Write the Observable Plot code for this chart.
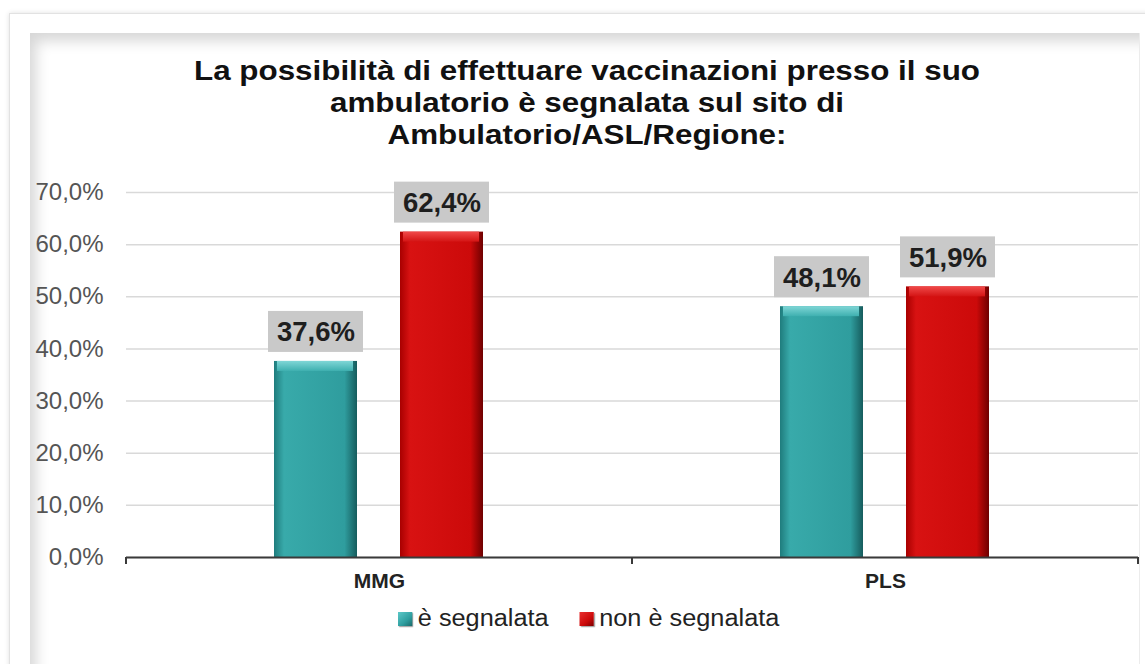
<!DOCTYPE html>
<html>
<head>
<meta charset="utf-8">
<script src="https://cdn.jsdelivr.net/npm/d3@7"></script>
<script src="https://cdn.jsdelivr.net/npm/@observablehq/plot@0.6"></script>
<style>
  html, body { margin: 0; padding: 0; background: #fff; }
  body { width: 1145px; height: 664px; position: relative; overflow: hidden; font-family: "Liberation Sans", Arial, sans-serif; }
  #outer { position: absolute; left: 9px; top: 13px; width: 1150px; height: 670px; border: 1px solid #e2e2e2; box-shadow: 0 0 5px rgba(0,0,0,0.12); background: #fff; }
  #inner { position: absolute; left: 30px; top: 33px; width: 1109px; height: 650px; background: #fff; box-shadow: inset 10px 12px 14px -4px rgba(0,0,0,0.16); border-right: 1px solid #ececec; }
  #title { position: absolute; left: 30px; width: 1114px; top: 55px; text-align: center; font-size: 28px; line-height: 32px; font-weight: bold; color: #111; transform: scaleX(1.12); transform-origin: 557px 0; }
  #chart { position: absolute; left: 0; top: 160px; }
  #legend { position: absolute; top: 605px; left: 398px; display: flex; align-items: center; font-size: 23px; color: #222; transform: scaleX(1.1); transform-origin: 0 0; }
  #legend .sw { width: 13px; height: 14px; display: inline-block; margin-right: 5px; box-shadow: 1px 1px 1px rgba(0,0,0,0.4); }
  #legend .item { display: flex; align-items: center; margin-right: 28px; }
  g[aria-label="mainbar"] { filter: drop-shadow(3px 3px 2px rgba(0,0,0,0.35)); }
  g[aria-label="labelbox"] { filter: drop-shadow(2px 3px 2px rgba(0,0,0,0.3)); }
</style>
</head>
<body>
<div id="outer"></div>
<div id="inner"></div>
<div id="title">La possibilità di effettuare vaccinazioni presso il suo<br>ambulatorio è segnalata sul sito di<br>Ambulatorio/ASL/Regione:</div>
<div id="chart"></div>
<div id="legend"></div>
<script>
const categories = ["MMG", "PLS"];
const series = ["è segnalata", "non è segnalata"];
const segnalata = [37.6, 48.1];
const nonSegnalata = [62.4, 51.9];
const yTicks = [0, 10, 20, 30, 40, 50, 60, 70];

const fmt = v => v.toFixed(1).replace(".", ",") + "%";

const data = [];
categories.forEach((c, i) => {
  data.push({cat: c, series: series[0], value: segnalata[i]});
  data.push({cat: c, series: series[1], value: nonSegnalata[i]});
});
const teal = data.filter(d => d.series === series[0]);
const red = data.filter(d => d.series === series[1]);

const defs = () => {
  const ns = "http://www.w3.org/2000/svg";
  const g = document.createElementNS(ns, "defs");
  g.innerHTML = `
    <linearGradient id="gTeal" x1="0" x2="1" y1="0" y2="0">
      <stop offset="0" stop-color="#1f7c7d"/>
      <stop offset="0.12" stop-color="#38aaaa"/>
      <stop offset="0.85" stop-color="#2f9d9e"/>
      <stop offset="1" stop-color="#165c5d"/>
    </linearGradient>
    <linearGradient id="gRed" x1="0" x2="1" y1="0" y2="0">
      <stop offset="0" stop-color="#a80000"/>
      <stop offset="0.12" stop-color="#d81212"/>
      <stop offset="0.85" stop-color="#cc0a0a"/>
      <stop offset="1" stop-color="#6e0000"/>
    </linearGradient>
    <linearGradient id="gTealTop" x1="0" x2="0" y1="0" y2="1">
      <stop offset="0" stop-color="#7fd6d6"/>
      <stop offset="1" stop-color="#3fb0b0"/>
    </linearGradient>
    <linearGradient id="gRedTop" x1="0" x2="0" y1="0" y2="1">
      <stop offset="0" stop-color="#f04a4a"/>
      <stop offset="1" stop-color="#d41414"/>
    </linearGradient>`;
  return g;
};

const plot = Plot.plot({
  width: 1145,
  height: 440,
  marginTop: 32,
  marginBottom: 43,
  marginLeft: 125,
  marginRight: 7,
  style: {fontFamily: "Liberation Sans, Arial, sans-serif", color: "#555", background: "transparent"},
  fx: {domain: categories, padding: 0, label: null},
  x: {domain: series, paddingInner: 0.339, paddingOuter: 1.165, axis: null},
  y: {domain: [0, 70], label: null},
  marks: [
    defs,
    Plot.gridY(yTicks, {stroke: "#d9d9d9", strokeOpacity: 1, strokeWidth: 1.5}),
    Plot.axisY(yTicks, {tickFormat: fmt, tickSize: 0, tickPadding: 23, fontSize: 24, fill: "#555", label: null}),
    Plot.axisFx({anchor: "bottom", tickSize: 0, tickPadding: 16, fontSize: 21, fontWeight: "bold", fill: "#222", label: null}),
    Plot.barY(teal, {fx: "cat", x: "series", y: "value", fill: "url(#gTeal)", ariaLabel: "mainbar"}),
    Plot.barY(red, {fx: "cat", x: "series", y: "value", fill: "url(#gRed)", ariaLabel: "mainbar"}),
    Plot.barY(teal, {fx: "cat", x: "series", y1: "value", y2: "value", insetBottom: -10, insetLeft: 3, insetRight: 4, fill: "url(#gTealTop)"}),
    Plot.barY(red, {fx: "cat", x: "series", y1: "value", y2: "value", insetBottom: -10, insetLeft: 3, insetRight: 4, fill: "url(#gRedTop)"}),
    Plot.barY(data, {fx: "cat", x: "series", y1: "value", y2: "value", insetTop: -50, insetBottom: 9, insetLeft: -6, insetRight: -6, fill: "#c9c9c9", ariaLabel: "labelbox"}),
    Plot.text(data, {fx: "cat", x: "series", y: "value", text: d => fmt(d.value), dy: -29, fontSize: 27.5, fontWeight: "bold", fill: "#1e1e1e"}),
    Plot.ruleY([0], {stroke: "#3a3a3a", strokeWidth: 2})
  ]
});
document.getElementById("chart").appendChild(plot);

// category boundary tick marks derived from the fx scale
const fx = plot.scale("fx");
const svg = d3.select(plot);
const y0 = 440 - 43;
const bounds = [];
categories.forEach(c => bounds.push(fx.apply(c)));
bounds.push(fx.apply(categories[categories.length - 1]) + fx.bandwidth);
svg.append("g").selectAll("line").data(bounds).join("line")
  .attr("x1", d => d).attr("x2", d => d)
  .attr("y1", y0).attr("y2", y0 + 7)
  .attr("stroke", "#3a3a3a").attr("stroke-width", 2);

// legend
const leg = document.getElementById("legend");
const grads = ["linear-gradient(135deg,#5cc8c8,#2e9e9f 60%,#1b6a6b)", "linear-gradient(135deg,#e83030,#cc0a0a 60%,#7a0000)"];
series.forEach((s, i) => {
  const item = document.createElement("div");
  item.className = "item";
  const sw = document.createElement("span");
  sw.className = "sw";
  sw.style.background = grads[i];
  item.appendChild(sw);
  item.appendChild(document.createTextNode(s));
  leg.appendChild(item);
});
</script>
</body>
</html>
